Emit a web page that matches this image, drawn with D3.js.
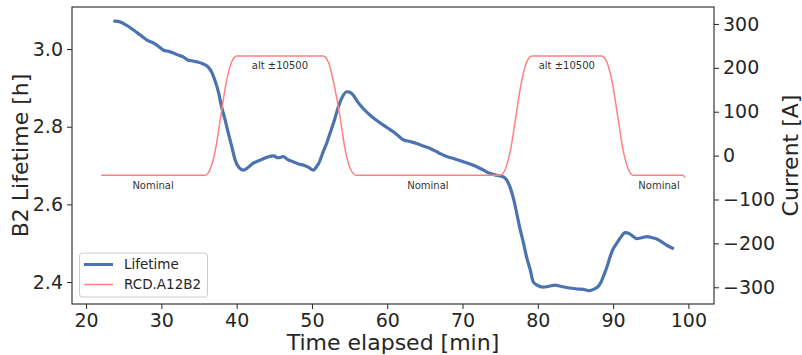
<!DOCTYPE html>
<html><head><meta charset="utf-8">
<script src="https://cdn.jsdelivr.net/npm/d3@7"></script>
<style>body{margin:0;background:#fff}svg{display:block}text{font-family:"DejaVu Sans",sans-serif;fill:#262626}</style>
</head><body><svg id="c" width="802" height="355"></svg>
<script>
const lifetimeT = [23.8,24.5,25.3,26.3,27.2,28.1,28.8,29.4,30.3,31.0,31.6,32.3,32.9,33.5,34.0,34.7,35.5,36.2,36.7,37.1,37.6,38.0,38.5,38.9,39.4,39.8,40.3,40.9,41.5,42.2,43.0,44.0,44.9,45.5,46.2,46.8,47.5,48.2,48.9,49.5,50.2,50.6,50.9,51.5,52.0,52.4,53.0,53.5,54.0,54.6,55.0,55.5,56.0,56.4,57.0,57.7,58.6,59.5,60.1,60.8,61.5,62.1,63.0,63.9,64.8,65.7,66.8,67.9,69.0,70.1,71.0,71.9,72.8,73.6,74.5,75.4,75.9,76.3,76.8,77.2,77.6,78.1,78.5,79.0,79.4,79.9,80.7,81.5,82.3,83.0,83.8,84.5,85.2,86.0,86.9,87.5,88.0,88.4,88.7,89.2,89.6,90.0,90.5,91.0,91.6,92.2,92.7,93.1,93.8,94.5,95.2,95.8,96.5,97.1,97.9];
const lifetimeH = [3.072,3.070,3.062,3.049,3.036,3.023,3.017,3.010,2.997,2.994,2.990,2.984,2.980,2.972,2.970,2.967,2.962,2.954,2.940,2.920,2.888,2.851,2.815,2.783,2.745,2.714,2.695,2.688,2.695,2.706,2.713,2.721,2.725,2.720,2.723,2.715,2.710,2.704,2.701,2.696,2.688,2.697,2.706,2.736,2.760,2.783,2.818,2.851,2.875,2.890,2.889,2.881,2.866,2.856,2.843,2.830,2.816,2.804,2.796,2.787,2.776,2.767,2.762,2.757,2.750,2.744,2.733,2.723,2.717,2.710,2.704,2.697,2.688,2.680,2.675,2.671,2.662,2.645,2.612,2.577,2.540,2.500,2.465,2.431,2.400,2.392,2.387,2.389,2.392,2.389,2.386,2.384,2.382,2.381,2.378,2.382,2.388,2.400,2.414,2.440,2.465,2.485,2.500,2.515,2.527,2.524,2.517,2.512,2.514,2.517,2.514,2.511,2.503,2.495,2.487];
const currentT = [22.0,35.8,36.5,37.2,37.9,38.6,39.3,40.0,51.5,52.2,52.9,53.7,54.4,55.1,55.9,75.0,75.7,76.4,77.1,77.8,78.5,79.2,88.5,89.2,89.9,90.6,91.3,92.0,92.7,99.3,99.55];
const currentA = [-45,-45,-30,15,91,165,212,227,227,212,165,91,15,-30,-45,-45,-30,15,91,165,212,227,227,212,165,91,15,-30,-45,-45,-50];
const annotations = [
  {t:45.75, v:"alt ±10500", kind:"alt"},
  {t:83.85, v:"alt ±10500", kind:"alt"},
  {t:28.9, v:"Nominal", kind:"nom"},
  {t:65.4, v:"Nominal", kind:"nom"},
  {t:96.1, v:"Nominal", kind:"nom"}
];
const xTicks = [20,30,40,50,60,70,80,90,100];
const yLTicks = [2.4,2.6,2.8,3.0];
const yRTicks = [-300,-200,-100,0,100,200,300];
const seriesNames = ["Lifetime","RCD.A12B2"];

const L=72,R=714,T=7,B=304;
const svg=d3.select("#c");
const x=d3.scaleLinear().domain([18.13,103.4]).range([L,R]);
const yL=d3.scaleLinear().domain([2.3434,3.1083]).range([B,T]);
const yR=d3.scaleLinear().domain([-338.1,338.6]).range([B,T]);
const blue="#4C72B0", red="#FF8080", ink="#262626";

const lifeData=lifetimeT.map((t,i)=>[t,lifetimeH[i]]);
const curData=currentT.map((t,i)=>[t,currentA[i]]);

svg.append("path").datum(lifeData)
  .attr("d",d3.line().x(d=>x(d[0])).y(d=>yL(d[1])).curve(d3.curveMonotoneX))
  .attr("fill","none").attr("stroke",blue).attr("stroke-width",3.2).attr("stroke-linejoin","round").attr("stroke-linecap","round");
svg.append("path").datum(curData)
  .attr("d",d3.line().x(d=>x(d[0])).y(d=>yR(d[1])).curve(d3.curveMonotoneX))
  .attr("fill","none").attr("stroke",red).attr("stroke-width",1.5);

annotations.forEach(a=>{
  svg.append("text").attr("x",x(a.t)).attr("y",a.kind==="alt"?68.5:189)
    .attr("text-anchor","middle").attr("font-size","10px").style("fill","#333").text(a.v);
});

function styleAxis(g){
  g.select(".domain").remove();
  g.selectAll(".tick line").attr("stroke",ink).attr("stroke-width",1);
  g.selectAll(".tick text").style("fill",ink).attr("font-size","19px").attr("font-family","DejaVu Sans");
}
const gx=svg.append("g").attr("transform",`translate(0,${B})`)
  .call(d3.axisBottom(x).tickValues(xTicks).tickSize(5).tickPadding(5).tickFormat(d3.format("d")));
styleAxis(gx); gx.selectAll(".tick text").attr("dy","0.71em");
const gl=svg.append("g").attr("transform",`translate(${L},0)`)
  .call(d3.axisLeft(yL).tickValues(yLTicks).tickSize(5).tickPadding(4).tickFormat(d3.format(".1f")));
styleAxis(gl);
const gr=svg.append("g").attr("transform",`translate(${R},0)`)
  .call(d3.axisRight(yR).tickValues(yRTicks).tickSize(5).tickPadding(4).tickFormat(d=>d<0?"\u2212"+Math.abs(d):String(d)));
styleAxis(gr);

svg.append("rect").attr("x",L).attr("y",T).attr("width",R-L).attr("height",B-T)
  .attr("fill","none").attr("stroke",ink).attr("stroke-width",1.1);

svg.append("text").attr("x",(L+R)/2).attr("y",350).attr("text-anchor","middle").attr("font-size","22px").text("Time elapsed [min]");
svg.append("text").attr("transform",`translate(28,${(T+B)/2}) rotate(-90)`).attr("text-anchor","middle").attr("font-size","22px").text("B2 Lifetime [h]");
svg.append("text").attr("transform",`translate(798,${(T+B)/2}) rotate(-90)`).attr("text-anchor","middle").attr("font-size","22px").text("Current [A]");

const lg=svg.append("g");
lg.append("rect").attr("x",79.5).attr("y",253).attr("width",128).attr("height",44).attr("rx",3)
  .attr("fill","#fff").attr("fill-opacity",0.8).attr("stroke","#cccccc").attr("stroke-width",1);
[[blue,3],[red,1.5]].forEach((s,i)=>{
  const yy=264.5+i*20;
  lg.append("line").attr("x1",84).attr("x2",113).attr("y1",yy).attr("y2",yy).attr("stroke",s[0]).attr("stroke-width",s[1]);
  lg.append("text").attr("x",124).attr("y",yy).attr("dy","0.35em").attr("font-size","13.5px").text(seriesNames[i]);
});
</script></body></html>
